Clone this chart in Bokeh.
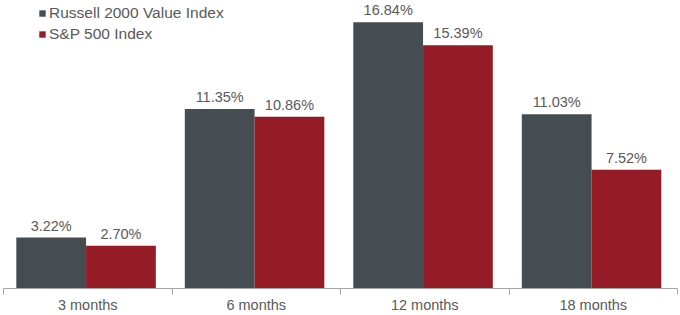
from bokeh.plotting import figure
from bokeh.models import Range1d, FixedTicker, ColumnDataSource, Legend, LegendItem
from bokeh.embed import file_html
from bokeh.resources import INLINE
from bokeh.core.properties import value

categories = ["3 months", "6 months", "12 months", "18 months"]
russell = [3.22, 11.35, 16.84, 11.03]
sp500 = [2.70, 10.86, 15.39, 7.52]
series_names = ["Russell 2000 Value Index", "S&P 500 Index"]

DARK = "#454C52"
RED = "#951B27"
TXT = "#595959"
AXIS = "#a6a6a6"
FONT = "Liberation Sans"

idx = list(range(len(categories)))
bar_w = 0.414
src = ColumnDataSource(dict(
    xr=[i + 0.283 for i in idx],
    xs=[i + 0.697 for i in idx],
    r=russell,
    s=sp500,
    rl=[f"{v:.2f}%" for v in russell],
    sl=[f"{v:.2f}%" for v in sp500],
))

p = figure(width=680, height=315, output_backend="svg", toolbar_location=None,
           x_range=Range1d(0, len(categories)), y_range=Range1d(0, 18.22),
           y_axis_location=None, min_border_left=3, min_border_right=3,
           min_border_top=0, min_border_bottom=0)
p.outline_line_color = None
p.xgrid.visible = False
p.ygrid.visible = False

r1 = p.vbar(x="xr", top="r", width=bar_w, source=src, fill_color=DARK, line_color=None)
r2 = p.vbar(x="xs", top="s", width=bar_w, source=src, fill_color=RED, line_color=None)

for xc, yc, tc in (("xr", "r", "rl"), ("xs", "s", "sl")):
    p.text(x=xc, y=yc, text=tc, source=src, text_align="center", text_baseline="alphabetic",
           y_offset=-12, text_font=value(FONT), text_font_size="14.5px", text_color=TXT)

ax = p.xaxis[0]
ax.ticker = FixedTicker(ticks=[i + 0.5 for i in idx], minor_ticks=list(range(len(categories) + 1)))
ax.major_label_overrides = {i + 0.5: c for i, c in zip(idx, categories)}
ax.major_tick_line_color = None
ax.major_tick_in = 0
ax.major_tick_out = 0
ax.minor_tick_line_color = AXIS
ax.minor_tick_in = 0
ax.minor_tick_out = 6
ax.axis_line_color = AXIS
ax.major_label_text_font = FONT
ax.major_label_text_font_size = "14.5px"
ax.major_label_text_color = TXT
ax.major_label_standoff = 2

legend = Legend(items=[LegendItem(label=series_names[0], renderers=[r1]),
                       LegendItem(label=series_names[1], renderers=[r2])],
                location=(35, 244), glyph_width=8, glyph_height=8, label_height=20,
                label_standoff=3, spacing=1, padding=0, margin=0,
                background_fill_alpha=0, border_line_color=None,
                label_text_font=FONT, label_text_font_size="15.5px", label_text_color=TXT)
p.add_layout(legend, "center")

open("out.html", "w").write(file_html(p, INLINE))
